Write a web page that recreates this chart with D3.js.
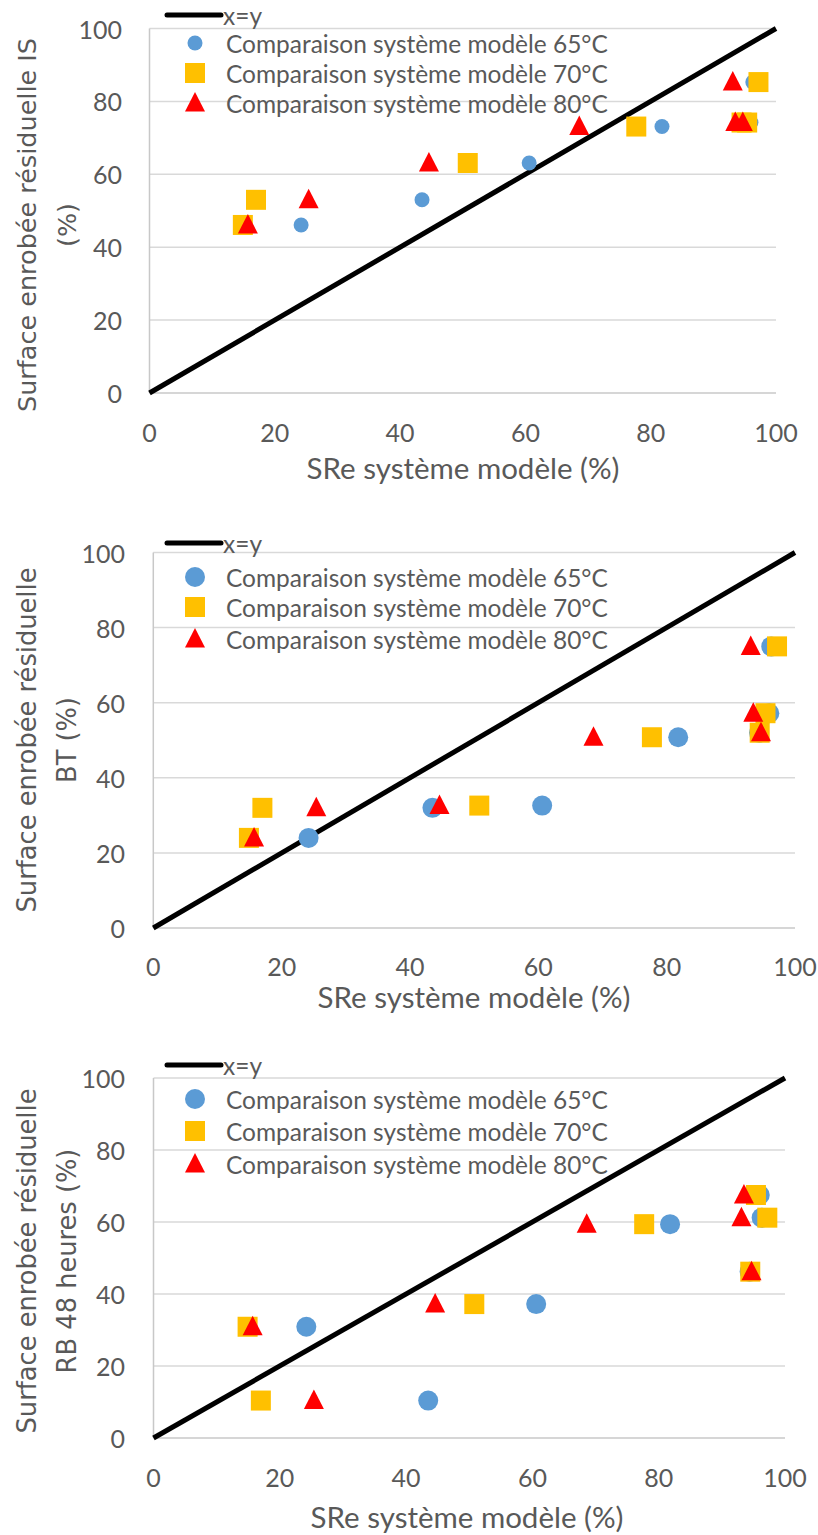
<!DOCTYPE html>
<html><head><meta charset="utf-8">
<script src="https://cdn.jsdelivr.net/npm/d3@7"></script>
<style>body{margin:0;background:#fff}svg{display:block}</style>
</head><body>
<svg id="c" width="818" height="1535"></svg>
<script>
// ---- data ----
const seriesNames = ["Comparaison système modèle 65°C","Comparaison système modèle 70°C","Comparaison système modèle 80°C"];
const lineName = "x=y";
const xSRe65 = [24.2, 43.5, 60.6, 81.8, 96.0, 94.4, 96.3];
const xSRe70 = [14.9, 17.0, 50.8, 77.7, 95.4, 94.5, 97.2];
const xSRe80 = [15.7, 25.4, 44.6, 68.6, 93.5, 94.7, 93.1];
const yIS = [46.1, 53.0, 63.1, 73.1, 74.2, 74.2, 85.3];
const yBT = [24.0, 32.0, 32.6, 50.8, 57.2, 52.0, 75.0];
const yRB = [30.9, 10.4, 37.2, 59.4, 67.5, 46.2, 61.2];
const ticks = [0, 20, 40, 60, 80, 100];
const lineXY = [[0,0],[100,100]];
const xTitle = "SRe système modèle (%)";
const yTitles = [["Surface enrobée résiduelle IS","(%)"],["Surface enrobée résiduelle","BT (%)"],["Surface enrobée résiduelle","RB 48 heures (%)"]];
const yValues = [yIS, yBT, yRB];
const xValues = [xSRe65, xSRe70, xSRe80];

// ---- layout ----
const panels = [
  {xr:[149.5,776], yr:[393,28.5], legLineY:15, legY:[43,73,103], yTitleCY:225, yTitleLen:374, tickR:122, xTickY:432, xTitleX:463, xTitleY:467, cd:15},
  {xr:[153.3,795], yr:[928,552.5], legLineY:543, legY:[577,607,639], yTitleCY:740, yTitleLen:345, tickR:125, xTickY:966, xTitleX:474, xTitleY:996, cd:20},
  {xr:[153.5,785], yr:[1438,1078], legLineY:1065, legY:[1099,1131,1164], yTitleCY:1261, yTitleLen:345, tickR:125, xTickY:1477, xTitleX:467, xTitleY:1516, cd:20}
];
const colors = ["#5B9BD5","#FFC000","#FF0000"];
const txtCol = "#595959";
const FONT = "Lato, 'Open Sans', sans-serif";
const svg = d3.select("#c");

function fit(sel, target){
  const n = sel.node(); const w = n.getComputedTextLength();
  const fs = parseFloat(sel.attr("font-size"));
  sel.attr("font-size", fs*target/w);
}
function marker(g, k, d){
  if(k===0){ g.append("circle").attr("r", d/2).attr("fill", colors[0]); }
  else if(k===1){ g.append("rect").attr("x",-10).attr("y",-10).attr("width",20).attr("height",20).attr("fill",colors[1]); }
  else { g.append("path").attr("d","M0,-11L10,8.5L-10,8.5Z").attr("fill",colors[2]); }
}

panels.forEach((p, pi) => {
  const x = d3.scaleLinear().domain([0,100]).range(p.xr);
  const y = d3.scaleLinear().domain([0,100]).range(p.yr);
  const g = svg.append("g");
  // gridlines
  g.selectAll("line.grid").data(ticks.slice(1)).join("line")
    .attr("x1", x(0)).attr("x2", x(100)).attr("y1", d=>y(d)).attr("y2", d=>y(d))
    .attr("stroke", "#d9d9d9").attr("stroke-width", 1.5);
  g.append("line").attr("x1",x(0)).attr("x2",x(100)).attr("y1",y(0)).attr("y2",y(0)).attr("stroke","#c8c8c8").attr("stroke-width",1.5);
  g.append("line").attr("x1",x(0)).attr("x2",x(0)).attr("y1",y(0)).attr("y2",y(100)).attr("stroke","#c8c8c8").attr("stroke-width",1.5);
  // tick labels
  g.selectAll("text.yt").data(ticks).join("text")
    .attr("x", p.tickR).attr("y", d=>y(d)).attr("text-anchor","end").attr("dominant-baseline","central")
    .attr("font-family",FONT).attr("font-size",25).attr("fill",txtCol).text(d=>d);
  g.selectAll("text.xt").data(ticks).join("text")
    .attr("x", d=>x(d)).attr("y", p.xTickY).attr("text-anchor","middle").attr("dominant-baseline","central")
    .attr("font-family",FONT).attr("font-size",25).attr("fill",txtCol).text(d=>d);
  // x title
  const xt = g.append("text").attr("x",p.xTitleX).attr("y",p.xTitleY).attr("text-anchor","middle").attr("dominant-baseline","central")
    .attr("font-family",FONT).attr("font-size",28).attr("fill",txtCol).text(xTitle);
  fit(xt, 313);
  // y title
  const yt1 = g.append("text").attr("transform",`translate(27,${p.yTitleCY}) rotate(-90)`).attr("text-anchor","middle").attr("dominant-baseline","central")
    .attr("font-family","'DejaVu Sans', Verdana, sans-serif").attr("font-size",24).attr("fill",txtCol).text(yTitles[pi][0]);
  fit(yt1, p.yTitleLen);
  g.append("text").attr("transform",`translate(67,${p.yTitleCY}) rotate(-90)`).attr("text-anchor","middle").attr("dominant-baseline","central")
    .attr("font-family","'DejaVu Sans', Verdana, sans-serif").attr("font-size",yt1.attr("font-size")).attr("fill",txtCol).text(yTitles[pi][1]);
  // x=y line
  g.append("path").datum(lineXY).attr("d", d3.line().x(d=>x(d[0])).y(d=>y(d[1])))
    .attr("stroke","#000").attr("stroke-width",5).attr("fill","none");
  // points
  xValues.forEach((xs, k) => {
    xs.forEach((xv, i) => {
      const m = g.append("g").attr("transform",`translate(${x(xv)},${y(yValues[pi][i])})`);
      marker(m, k, p.cd);
    });
  });
  // legend
  g.append("line").attr("x1",167).attr("x2",221).attr("y1",p.legLineY).attr("y2",p.legLineY).attr("stroke","#000").attr("stroke-width",5).attr("stroke-linecap","round");
  const lt = g.append("text").attr("x",223).attr("y",p.legLineY).attr("dominant-baseline","central")
    .attr("font-family",FONT).attr("font-size",21).attr("fill",txtCol).text(lineName);
  seriesNames.forEach((s, k) => {
    const m = g.append("g").attr("transform",`translate(195,${p.legY[k]})`);
    marker(m, k, p.cd);
    const t = g.append("text").attr("x",226).attr("y",p.legY[k]).attr("dominant-baseline","central")
      .attr("font-family",FONT).attr("font-size",21).attr("fill",txtCol).text(s);
    fit(t, 382);
    if(k===0) lt.attr("font-size", t.attr("font-size"));
  });
});
</script>
</body></html>
